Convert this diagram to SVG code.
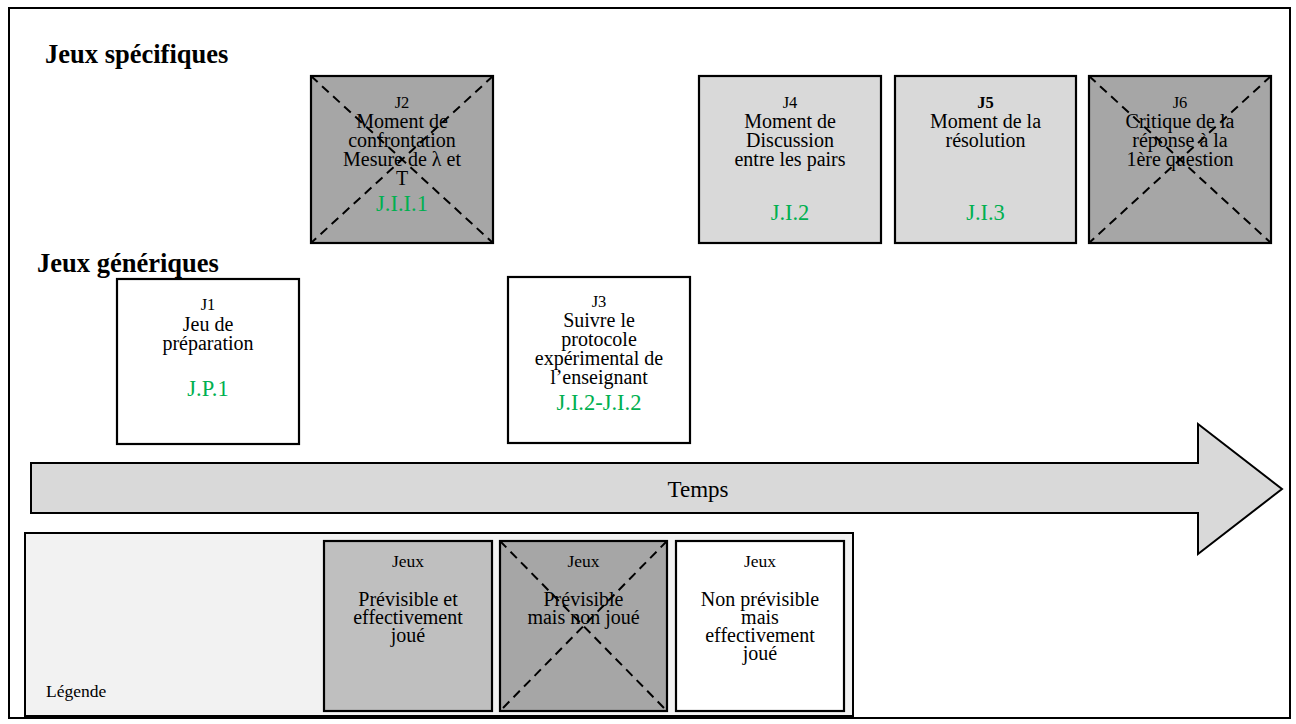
<svg xmlns="http://www.w3.org/2000/svg" width="1296" height="724" viewBox="0 0 1296 724">
<style>
text{font-family:"Liberation Serif","Times New Roman",serif;fill:#000;text-anchor:middle}
.box{stroke:#000;stroke-width:2.2}
.x{stroke:#000;stroke-width:2;stroke-dasharray:9,6;fill:none}
.t{font-size:20px}
.s{font-size:16.5px}
.g{font-size:22.5px;fill:#00b050}
.h{font-size:26.5px;font-weight:bold;text-anchor:start}
.lg{font-size:20px}
.lj{font-size:17.5px}
.st{text-anchor:start}
.dark{fill:#a6a6a6}
.light{fill:#d9d9d9}
.white{fill:#fff}
</style>
<rect x="0" y="0" width="1296" height="724" fill="#fff"/>
<rect x="9" y="8" width="1281" height="710" fill="#fff" stroke="#000" stroke-width="2"/>
<text class="h" x="45" y="63">Jeux spécifiques</text>
<text class="h" x="37" y="272">Jeux génériques</text>

<g id="J2">
<rect class="box dark" x="311" y="76" width="182" height="167"/>
<text class="s" x="402" y="108">J2</text>
<text class="t" x="402" y="128">Moment de</text>
<text class="t" x="402" y="147">confrontation</text>
<text class="t" x="402" y="166">Mesure de λ et</text>
<text class="t" x="402" y="185">T</text>
<text class="g" x="402" y="211">J.I.I.1</text>
<path class="x" d="M311,76 L493,243 M493,76 L311,243"/>
</g>

<g id="J4">
<rect class="box light" x="699" y="76" width="182" height="167"/>
<text class="s" x="790" y="108">J4</text>
<text class="t" x="790" y="128">Moment de</text>
<text class="t" x="790" y="147">Discussion</text>
<text class="t" x="790" y="166">entre les pairs</text>
<text class="g" x="790" y="220">J.I.2</text>
</g>

<g id="J5">
<rect class="box light" x="895" y="76" width="181" height="167"/>
<text class="s" x="985.5" y="108" font-weight="bold">J5</text>
<text class="t" x="985.5" y="128">Moment de la</text>
<text class="t" x="985.5" y="147">résolution</text>
<text class="g" x="985.5" y="220">J.I.3</text>
</g>

<g id="J6">
<rect class="box dark" x="1089" y="76" width="182" height="167"/>
<text class="s" x="1180" y="108">J6</text>
<text class="t" x="1180" y="128">Critique de la</text>
<text class="t" x="1180" y="147">réponse à la</text>
<text class="t" x="1180" y="166">1ère question</text>
<path class="x" d="M1089,76 L1271,243 M1271,76 L1089,243"/>
</g>

<g id="J1">
<rect class="box white" x="117" y="279" width="182" height="165"/>
<text class="s" x="208" y="310">J1</text>
<text class="t" x="208" y="331">Jeu de</text>
<text class="t" x="208" y="350">préparation</text>
<text class="g" x="208" y="396">J.P.1</text>
</g>

<g id="J3">
<rect class="box white" x="508" y="277" width="182" height="166"/>
<text class="s" x="599" y="307">J3</text>
<text class="t" x="599" y="327">Suivre le</text>
<text class="t" x="599" y="346">protocole</text>
<text class="t" x="599" y="365">expérimental de</text>
<text class="t" x="599" y="384">l’enseignant</text>
<text class="g" x="599" y="410">J.I.2-J.I.2</text>
</g>

<g id="connectors">
<g id="temps">
<path d="M31,463 L1198,463 L1198,424 L1282,489 L1198,554 L1198,513 L31,513 Z" fill="#d9d9d9" stroke="#000" stroke-width="2"/>
<text x="698" y="497" font-size="23">Temps</text>
</g>
</g>

<g id="legende">
<rect x="25" y="533" width="828" height="183" fill="#f2f2f2" stroke="#000" stroke-width="2"/>
<text class="st" x="46" y="697" font-size="17.5">Légende</text>
<g id="L1">
<rect class="box" fill="#bfbfbf" x="324" y="541" width="168" height="170"/>
<text class="lj" x="408" y="567">Jeux</text>
<text class="lg" x="408" y="606">Prévisible et</text>
<text class="lg" x="408" y="624">effectivement</text>
<text class="lg" x="408" y="642">joué</text>
</g>
<g id="L2">
<rect class="box dark" x="500" y="541" width="167" height="170"/>
<text class="lj" x="583.5" y="567">Jeux</text>
<text class="lg" x="583.5" y="606">Prévisible</text>
<text class="lg" x="583.5" y="624">mais non joué</text>
<path class="x" d="M500,541 L667,711 M667,541 L500,711"/>
</g>
<g id="L3">
<rect class="box white" x="676" y="541" width="168" height="170"/>
<text class="lj" x="760" y="567">Jeux</text>
<text class="lg" x="760" y="606">Non prévisible</text>
<text class="lg" x="760" y="624">mais</text>
<text class="lg" x="760" y="642">effectivement</text>
<text class="lg" x="760" y="660">joué</text>
</g>
</g>
</svg>
